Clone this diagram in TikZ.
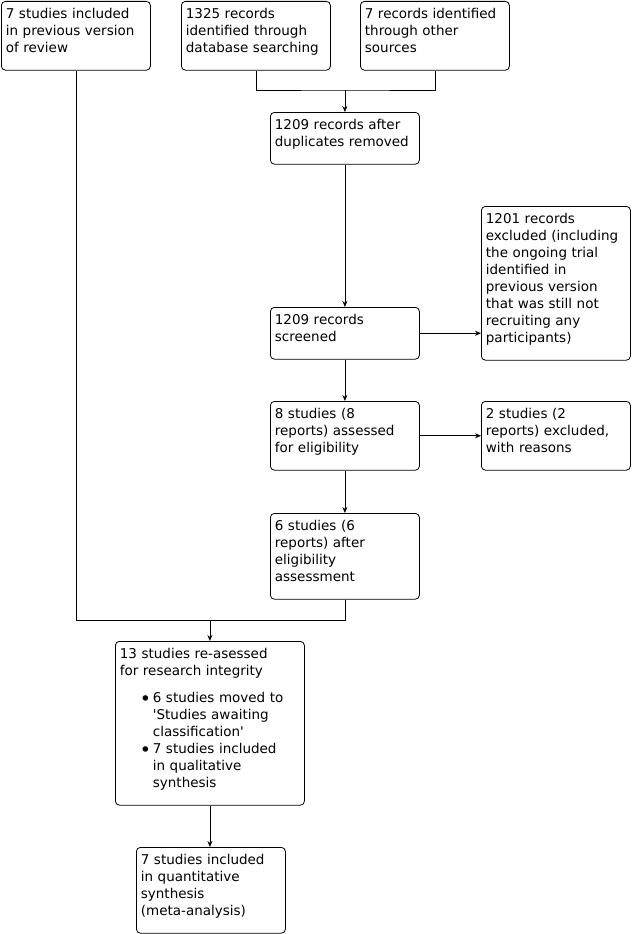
\documentclass[tikz,border=0pt]{standalone}
\usepackage{fontspec}
\setmainfont{DejaVu Sans}
\usepackage{xcolor}
\usepackage{tikz}
\usetikzlibrary{arrows.meta,positioning}
\definecolor{FLine}{HTML}{000000}
\newcommand{\flowfont}{\fontsize{13.5pt}{17pt}\selectfont}
\newcommand{\bul}{{\fontsize{19pt}{17pt}\selectfont\raisebox{-3pt}{•}}}

\begin{document}
\begin{tikzpicture}[
  x=1pt,y=-1pt,
  b/.style={draw=FLine,rounded corners=4pt,line width=0.8pt,anchor=north west,
    text width=140pt,inner xsep=4.5pt,inner ysep=6.5pt,
    execute at end node={\\[-5.5pt]\mbox{}},
    align=left,font=\flowfont},
  a/.style={-{Stealth[length=6pt,width=5pt]},line width=0.8pt,color=FLine},
  l/.style={line width=0.8pt,color=FLine}
]
  \useasboundingbox (0,0) rectangle (632,934);
  \node[b] (prev) at (1,1) {7 studies included\\in previous version\\of review};
  \node[b] (db) at (181,1) {1325 records\\identified through\\database searching};
  \node[b] (other) at (360,1) {7 records identified\\through other\\sources};
  \node[b] (dup) at (270,112) {1209 records after\\duplicates removed};
  \node[b] (excl1) at (481,206) {1201 records\\excluded (including\\the ongoing trial\\identified in\\previous version\\that was still not\\recruiting any\\participants)};
  \node[b] (screened) at (270,307) {1209 records\\screened};
  \node[b] (elig) at (270,401) {8 studies (8\\reports) assessed\\for eligibility};
  \node[b] (excl2) at (481,401) {2 studies (2\\reports) excluded,\\with reasons};
  \node[b] (after) at (270,513) {6 studies (6\\reports) after\\eligibility\\assessment};
  \node[b,text width=180pt] (reassess) at (115,641) {13 studies re-asessed\\for research integrity\\[10pt]
    \hspace*{20pt}\makebox[13pt][l]{\bul}6 studies moved to\\
    \hspace*{33pt}\textquotesingle Studies awaiting\\
    \hspace*{33pt}classification\textquotesingle\\
    \hspace*{20pt}\makebox[13pt][l]{\bul}7 studies included\\
    \hspace*{33pt}in qualitative\\
    \hspace*{33pt}synthesis};
  \node[b] (quant) at (136,847) {7 studies included\\in quantitative\\synthesis\\(meta-analysis)};
  % joins
  \coordinate (merge) at (dup.north |- 0,90);
  \coordinate (join) at (reassess.north |- 0,620);
  \draw[l] (db) |- (merge) -| (other);
  \draw[a] (merge) -- (dup);
  \draw[a] (dup) -- (screened);
  \draw[a] (screened.east) -- (screened.east -| excl1.west);
  \draw[a] (screened) -- (elig);
  \draw[a] (elig) -- (excl2);
  \draw[a] (elig) -- (after);
  \draw[l] (prev) |- (join);
  \draw[l] (after) |- (join);
  \draw[a] (join) -- (reassess);
  \draw[a] (reassess.south) -- (reassess.south |- quant.north);
\end{tikzpicture}
\end{document}
